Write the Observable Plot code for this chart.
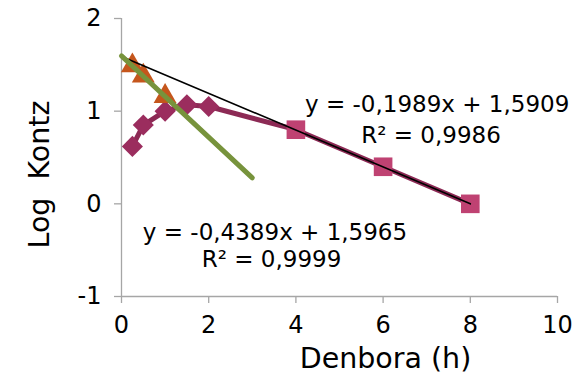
<!DOCTYPE html>
<html>
<head>
<meta charset="utf-8">
<script src="https://cdn.jsdelivr.net/npm/d3@7"></script>
<script src="https://cdn.jsdelivr.net/npm/@observablehq/plot@0.6"></script>
<style>
  html, body { margin: 0; padding: 0; background: #fff; }
  svg { display: block; }
</style>
</head>
<body>
<div id="chart"></div>
<script>
// ---- data ----
const triangleX = [0.25, 0.5, 1];
const triangleY = [1.49, 1.38, 1.16];
const diamondX = [0.25, 0.5, 1, 1.5, 2];
const diamondY = [0.62, 0.85, 1.0, 1.07, 1.05];
const squareX = [4, 6, 8];
const squareY = [0.80, 0.40, 0.00];
const fitSlopes = [-0.4389, -0.1989];
const fitIntercepts = [1.5965, 1.5909];
const fitRanges = [[0, 3], [0, 8]];
const fitLabels = [
  ["y = -0,4389x + 1,5965", "R² = 0,9999"],
  ["y = -0,1989x + 1,5909", "R² = 0,9986"]
];
const labelPos = [[3.52, -0.31, 3.44, -0.60], [7.24, 1.07, 7.10, 0.74]];
const xTicks = [0, 2, 4, 6, 8, 10];
const yTicks = [-1, 0, 1, 2];

// ---- derived tables ----
const triangles = triangleX.map((x, i) => ({x, y: triangleY[i]}));
const diamonds = diamondX.map((x, i) => ({x, y: diamondY[i]}));
const squares = squareX.map((x, i) => ({x, y: squareY[i]}));
const connected = diamonds.concat(squares);
const fitLine = k => fitRanges[k].map(x => ({x, y: fitSlopes[k] * x + fitIntercepts[k]}));
const labels = [];
fitLabels.forEach((pair, k) => {
  labels.push({x: labelPos[k][0], y: labelPos[k][1], t: pair[0]});
  labels.push({x: labelPos[k][2], y: labelPos[k][3], t: pair[1]});
});

const font = "DejaVu Sans, sans-serif";
const axisGray = "#a6a6a6";

const chart = Plot.plot({
  width: 582,
  height: 386,
  marginLeft: 121,
  marginRight: 25,
  marginTop: 18,
  marginBottom: 90,
  style: {fontFamily: font, background: "#fff", color: "#000"},
  x: {domain: [0, 10]},
  y: {domain: [-1, 2]},
  marks: [
    Plot.ruleX([0], {stroke: axisGray, strokeWidth: 1.3}),
    Plot.ruleY([-1], {stroke: axisGray, strokeWidth: 1.3}),
    Plot.axisX({ticks: xTicks, tickSize: 7, tickPadding: 12, stroke: axisGray, strokeWidth: 1.3, fill: "#000", fontSize: 24, label: null, tickFormat: d => String(d)}),
    Plot.axisY({ticks: yTicks, tickSize: 7, tickPadding: 13, stroke: axisGray, strokeWidth: 1.3, fill: "#000", fontSize: 24, label: null, tickFormat: d => String(d)}),
    Plot.line(connected, {x: "x", y: "y", stroke: "#8c2a55", strokeWidth: 5}),
    Plot.dot(diamonds, {x: "x", y: "y", symbol: "diamond2", r: 9.5, fill: "#9b2d5e", stroke: "none"}),
    Plot.dot(squares, {x: "x", y: "y", symbol: "square", r: 10.5, fill: "#bf4272", stroke: "none"}),
    Plot.dot(triangles, {x: "x", y: "y", symbol: "triangle", r: 8.5, fill: "#c5561c", stroke: "none"}),
    Plot.line(fitLine(1), {x: "x", y: "y", stroke: "#000", strokeWidth: 1.6}),
    Plot.line(fitLine(0), {x: "x", y: "y", stroke: "#77933c", strokeWidth: 5}),
    Plot.text(labels, {x: "x", y: "y", text: "t", fontSize: 23, fill: "#000", textAnchor: "middle"}),
    Plot.text(["Denbora (h)"], {frameAnchor: "bottom", textAnchor: "middle", lineAnchor: "middle", dx: 46, dy: 62, fontSize: 28.5, fill: "#000"}),
    Plot.text(["Log\u00a0\u00a0Kontz"], {frameAnchor: "left", textAnchor: "middle", lineAnchor: "middle", rotate: -90, dx: -82, dy: 17, fontSize: 28.5, fill: "#000"})
  ]
});
document.getElementById("chart").appendChild(chart);
</script>
</body>
</html>
